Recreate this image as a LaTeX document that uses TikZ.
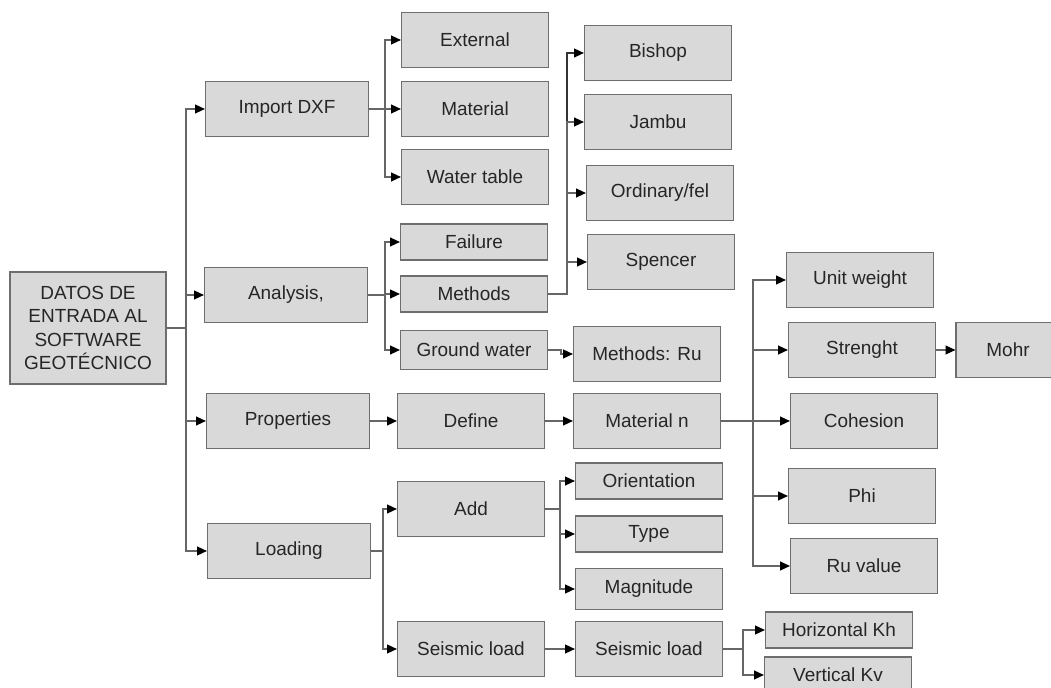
\documentclass[tikz,border=0pt]{standalone}
\usepackage{fontspec}
\setmainfont{Liberation Sans}
\usetikzlibrary{arrows.meta}
\definecolor{boxfill}{HTML}{D9D9D9}
\definecolor{boxline}{HTML}{6E6E6E}
\definecolor{conline}{HTML}{666666}

\begin{document}
\begin{tikzpicture}[x=0.02cm,y=0.02cm]
\tikzstyle{every node}+=[inner sep=0pt, font=\fontsize{10.8}{13.3}\selectfont, text=black!85]
\tikzstyle{box}=[draw=boxline, fill=boxfill, line width=0.7pt, minimum width=2.94cm, minimum height=1.1cm]
\tikzstyle{flat}=[box, minimum height=0.72cm]
\tikzstyle{head}=[box, minimum width=3.26cm]
\tikzstyle{con}=[conline, line width=0.7pt, -{Triangle[length=5.5pt,width=5pt,color=black]}]
\useasboundingbox (0,0) rectangle (1051,-688);
\fill [white] (0,0) rectangle (1051,-688);
% root and first level
\node [box, minimum width=3.12cm, minimum height=2.24cm, align=center] (datos) at (88,-328) {DATOS DE\\ENTRADA AL\\SOFTWARE\\GEOTÉCNICO};
\node [head] (imp) at (287,-109) {Import DXF};
\node [head] (ana) at (286,-295) {Analysis,};
\node [head] (prop) at (288,-421) {Properties};
\node [head] (load) at (289,-551) {Loading};
% import
\node [box] (ext) at (475,-40) {External};
\node [box] (mat) at (475,-109) {Material};
\node [box] (wt) at (475,-177) {Water table};
% analysis
\node [flat] (fail) at (474,-242) {Failure};
\node [flat] (meth) at (474,-294) {Methods};
\node [flat, minimum height=0.78cm] (gw) at (474,-350) {Ground water};
\node [box] (bish) at (658,-53) {Bishop};
\node [box] (jam) at (658,-122) {Jambu};
\node [box] (ord) at (660,-193) {Ordinary/fel};
\node [box] (spen) at (661,-262) {Spencer};
\node [box] (mru) at (647,-354) {Methods: Ru};
% properties
\node [box] (def) at (471,-421) {Define};
\node [box] (matn) at (647,-421) {Material n};
\node [box] (uw) at (860,-280) {Unit weight};
\node [box] (str) at (862,-350) {Strenght};
\node [box, minimum width=2.08cm] (mohr) at (1008,-350) {Mohr};
\node [box] (coh) at (864,-421) {Cohesion};
\node [box] (phi) at (862,-496) {Phi};
\node [box] (ru) at (864,-566) {Ru value};
% loading
\node [box] (add) at (471,-509) {Add};
\node [flat] (ori) at (649,-481) {Orientation};
\node [flat] (typ) at (649,-534) {Type};
\node [flat, minimum height=0.82cm] (mag) at (649,-589) {Magnitude};
\node [box] (sla) at (471,-649) {Seismic load};
\node [box] (slb) at (649,-649) {Seismic load};
\node [flat] (hkh) at (839,-630) {Horizontal Kh};
\node [flat] (vkv) at (838,-675) {Vertical Kv};
% bus lines
\coordinate (b0) at (186,0);
\coordinate (b1) at (385,0);
\coordinate (b2) at (385,0);
\coordinate (b3) at (567,0);
\coordinate (b4) at (753,0);
\coordinate (b5) at (560,0);
\coordinate (b6) at (383,0);
\coordinate (b7) at (743,0);
\coordinate (b8) at (561,0);
% connectors
\draw [con] (datos.east) -- (datos.east -| b0) |- (imp.west);
\draw [con] (datos.east) -- (datos.east -| b0) |- (ana.west);
\draw [con] (datos.east) -- (datos.east -| b0) |- (prop.west);
\draw [con] (datos.east) -- (datos.east -| b0) |- (load.west);
\draw [con] (imp.east) -- (imp.east -| b1) |- (ext.west);
\draw [con] (imp) -- (mat);
\draw [con] (imp.east) -- (imp.east -| b1) |- (wt.west);
\draw [con] (ana.east) -- (ana.east -| b2) |- (fail.west);
\draw [con] (ana.east) -- (ana.east -| b2) |- (meth.west);
\draw [con] (ana.east) -- (ana.east -| b2) |- (gw.west);
\draw [con, black!80] (meth.east) -- (meth.east -| b3) |- (bish.west);
\draw [con] (meth.east) -- (meth.east -| b3) |- (jam.west);
\draw [con] (meth.east) -- (meth.east -| b3) |- (ord.west);
\draw [con] (meth.east) -- (meth.east -| b3) |- (spen.west);
\draw [con] (gw.east) -- (gw.east -| b8) |- (mru.west);
\draw [con] (prop) -- (def);
\draw [con] (def) -- (matn);
\draw [con] (matn.east) -- (matn.east -| b4) |- (uw.west);
\draw [con] (matn.east) -- (matn.east -| b4) |- (str.west);
\draw [con] (matn.east) -- (matn.east -| b4) |- (coh.west);
\draw [con] (matn.east) -- (matn.east -| b4) |- (phi.west);
\draw [con] (matn.east) -- (matn.east -| b4) |- (ru.west);
\draw [con] (str) -- (mohr);
\draw [con] (load.east) -- (load.east -| b6) |- (add.west);
\draw [con] (load.east) -- (load.east -| b6) |- (sla.west);
\draw [con] (add.east) -- (add.east -| b5) |- (ori.west);
\draw [con] (add.east) -- (add.east -| b5) |- (typ.west);
\draw [con] (add.east) -- (add.east -| b5) |- (mag.west);
\draw [con] (sla) -- (slb);
\draw [con] (slb.east) -- (slb.east -| b7) |- (hkh.west);
\draw [con] (slb.east) -- (slb.east -| b7) |- (vkv.west);
\end{tikzpicture}
\end{document}
